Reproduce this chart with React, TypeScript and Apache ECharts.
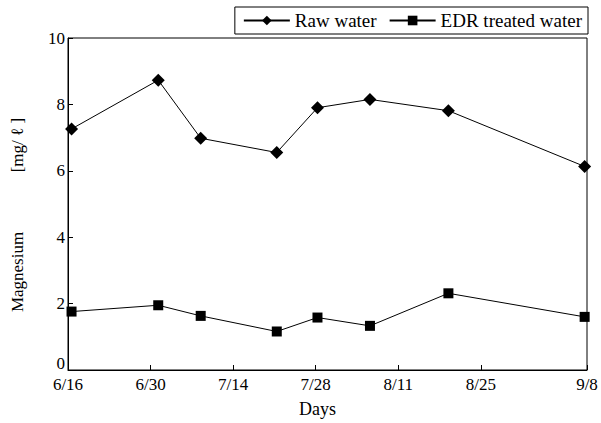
import React, { useEffect, useRef } from "react";
import * as echarts from "echarts";

const tickDays = [0, 14, 28, 42, 56, 70, 88];
const tickLabels = ["6/16", "6/30", "7/14", "7/28", "8/11", "8/25", "9/8"];
const sampleDays = [0.6, 15.3, 22.5, 35.4, 42.3, 51.2, 64.5, 87.6];
const rawWater = [7.26, 8.73, 6.98, 6.55, 7.9, 8.15, 7.81, 6.13];
const edrWater = [1.76, 1.95, 1.63, 1.16, 1.58, 1.33, 2.31, 1.6];
const yTicks = [0, 2, 4, 6, 8, 10];

const FONT = "Liberation Serif";
const NB = "\u00a0";

export default function App() {
  const ref = useRef<HTMLDivElement>(null);
  useEffect(() => {
    if (!ref.current) return;
    const chart = echarts.init(ref.current, null, { renderer: "svg" });
    const pair = (xs: number[], ys: number[]) => xs.map((x, i) => [x, ys[i]]);
    chart.setOption({
      animation: false,
      backgroundColor: "#fff",
      textStyle: { fontFamily: FONT, color: "#000" },
      grid: {
        left: 68,
        right: 14,
        top: 38,
        bottom: 52,
        show: true,
        borderColor: "#000",
        borderWidth: 1,
        backgroundColor: "transparent",
      },
      legend: {
        right: 13,
        top: 7,
        itemWidth: 46,
        itemHeight: 12,
        itemGap: 12,
        padding: [4, 6, 4, 8],
        borderColor: "#000",
        borderWidth: 1,
        backgroundColor: "#fff",
        textStyle: { fontFamily: FONT, fontSize: 19, color: "#000" },
        data: ["Raw water", "EDR treated water"],
      },
      xAxis: {
        type: "value",
        min: 0,
        max: 88,
        name: "Days",
        nameLocation: "middle",
        nameGap: 30,
        nameTextStyle: { fontFamily: FONT, fontSize: 18, color: "#000", padding: [0, 20, 0, 0] },
        splitLine: { show: false },
        axisLine: { lineStyle: { color: "#000", width: 1 } },
        axisTick: {
          inside: true,
          length: 5,
          customValues: tickDays,
          lineStyle: { color: "#000" },
        },
        axisLabel: {
          customValues: tickDays,
          margin: 6,
          fontFamily: FONT,
          fontSize: 17,
          color: "#000",
          formatter: (v: number) => {
            const i = tickDays.indexOf(Math.round(v));
            return i >= 0 ? tickLabels[i] : "";
          },
        },
      },
      yAxis: {
        type: "value",
        min: 0,
        max: 10,
        interval: 2,
        name:
          "Magnesium" + NB.repeat(14) + "[mg/" + NB + "\u2113" + NB + "]",
        nameLocation: "middle",
        nameGap: 42,
        nameTextStyle: { fontFamily: FONT, fontSize: 17, color: "#000", padding: [0, 22, 0, 0] },
        splitLine: { show: false },
        axisLine: { lineStyle: { color: "#000", width: 1 } },
        axisTick: { inside: true, length: 5, lineStyle: { color: "#000" } },
        axisLabel: {
          margin: 3,
          fontFamily: FONT,
          fontSize: 17,
          color: "#000",
          formatter: (v: number) => (v === yTicks[0] ? "{z|" + v + "}" : String(v)),
          rich: {
            z: { fontFamily: FONT, fontSize: 17, color: "#000", padding: [0, 0, 14, 0] },
          },
        },
      },
      series: [
        {
          name: "Raw water",
          type: "line",
          data: pair(sampleDays, rawWater),
          symbol: "diamond",
          symbolSize: 13,
          lineStyle: { color: "#000", width: 1 },
          itemStyle: { color: "#000" },
        },
        {
          name: "EDR treated water",
          type: "line",
          data: pair(sampleDays, edrWater),
          symbol: "rect",
          symbolSize: 10,
          lineStyle: { color: "#000", width: 1 },
          itemStyle: { color: "#000" },
        },
      ],
    });
    return () => chart.dispose();
  }, []);
  return (
    <div
      ref={ref}
      style={{ position: "absolute", left: 0, top: 0, width: 601, height: 423 }}
    />
  );
}
